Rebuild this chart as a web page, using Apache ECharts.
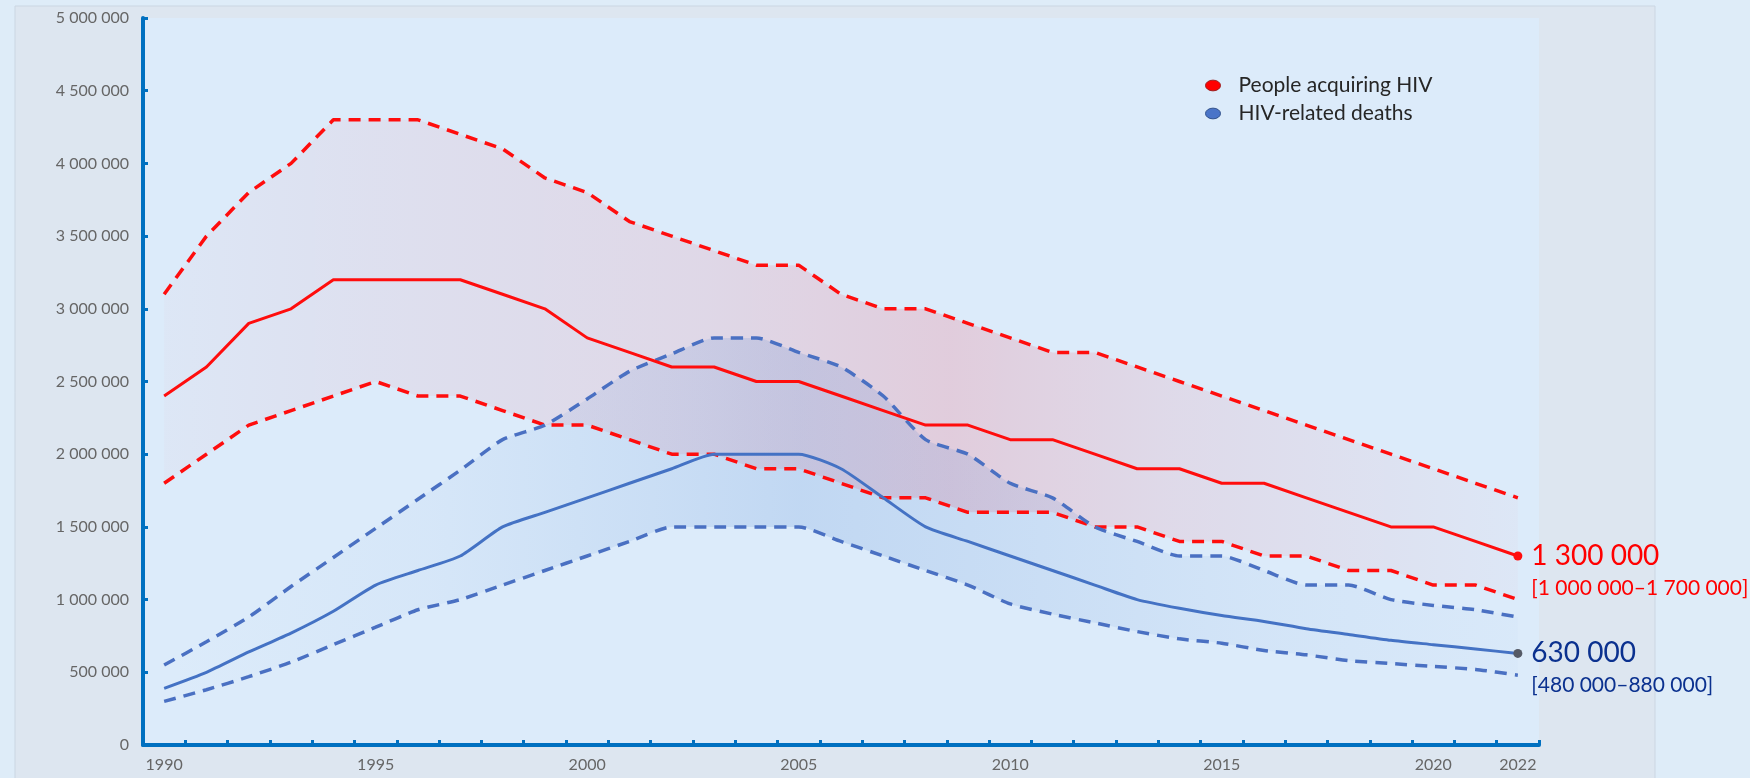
<!DOCTYPE html>
<html>
<head>
<meta charset="utf-8">
<title>People acquiring HIV and HIV-related deaths, 1990–2022</title>
<script src="https://cdn.jsdelivr.net/npm/echarts@6/dist/echarts.min.js"></script>
<style>
  html, body { margin: 0; padding: 0; background: #deecf8; }
  #chart { width: 1750px; height: 778px; }
</style>
</head>
<body>
<div id="chart"></div>
<script>
// Years on the horizontal axis
const years = ['1990','1991','1992','1993','1994','1995','1996','1997','1998','1999',
  '2000','2001','2002','2003','2004','2005','2006','2007','2008','2009',
  '2010','2011','2012','2013','2014','2015','2016','2017','2018','2019',
  '2020','2021','2022'];
const labelledYears = ['1990','1995','2000','2005','2010','2015','2020','2022'];

// People acquiring HIV: estimate and uncertainty bounds
const acquiringEstimate = [2400000,2600000,2900000,3000000,3200000,3200000,3200000,3200000,3100000,3000000,
  2800000,2700000,2600000,2600000,2500000,2500000,2400000,2300000,2200000,2200000,
  2100000,2100000,2000000,1900000,1900000,1800000,1800000,1700000,1600000,1500000,
  1500000,1400000,1300000];
const acquiringUpper = [3100000,3500000,3800000,4000000,4300000,4300000,4300000,4200000,4100000,3900000,
  3800000,3600000,3500000,3400000,3300000,3300000,3100000,3000000,3000000,2900000,
  2800000,2700000,2700000,2600000,2500000,2400000,2300000,2200000,2100000,2000000,
  1900000,1800000,1700000];
const acquiringLower = [1800000,2000000,2200000,2300000,2400000,2500000,2400000,2400000,2300000,2200000,
  2200000,2100000,2000000,2000000,1900000,1900000,1800000,1700000,1700000,1600000,
  1600000,1600000,1500000,1500000,1400000,1400000,1300000,1300000,1200000,1200000,
  1100000,1100000,1000000];

// HIV-related deaths: estimate and uncertainty bounds
const deathsEstimate = [390000,500000,640000,770000,920000,1100000,1200000,1300000,1500000,1600000,
  1700000,1800000,1900000,2000000,2000000,2000000,1900000,1700000,1500000,1400000,
  1300000,1200000,1100000,1000000,940000,890000,850000,800000,760000,720000,
  690000,660000,630000];
const deathsUpper = [550000,710000,880000,1090000,1290000,1490000,1690000,1890000,2100000,2200000,
  2380000,2570000,2690000,2800000,2800000,2700000,2600000,2400000,2100000,2000000,
  1800000,1700000,1500000,1400000,1300000,1300000,1200000,1100000,1100000,1000000,
  960000,930000,880000];
const deathsLower = [300000,380000,470000,570000,690000,810000,930000,1000000,1100000,1200000,
  1300000,1400000,1500000,1500000,1500000,1500000,1400000,1300000,1200000,1100000,
  970000,900000,840000,780000,730000,700000,650000,620000,580000,560000,
  540000,520000,480000];

// Value axis
const yMin = 0, yMax = 5000000, yStep = 500000;

const SERIES_ACQ = 'People acquiring HIV';
const SERIES_DEATH = 'HIV-related deaths';

const RED = '#ff0d0d';
const BLUE = '#4472c4';
const BLUE_DASH = '#4a70c2';
const NAVY = '#0b318f';
const FONT = 'Lato, "Open Sans", sans-serif';

function spaced(v) {
  return String(v).replace(/\B(?=(\d{3})+(?!\d))/g, ' ');
}

const last = years.length - 1;

function withEndLabel(values, color, dotColor, lower, upper) {
  return values.map((v, i) => {
    if (i !== last) return v;
    return {
      value: v,
      symbol: 'circle',
      symbolSize: 9,
      itemStyle: { color: dotColor },
      label: {
        show: true,
        position: 'right',
        distance: 9,
        offset: [0, 15],
        formatter: '{a|' + spaced(v) + '}\n{b|[' + spaced(lower[last]) + '–' + spaced(upper[last]) + ']}',
        rich: {
          a: { fontSize: 28, lineHeight: 34, color: color, fontFamily: FONT },
          b: { fontSize: 21, lineHeight: 30, color: color, fontFamily: FONT }
        }
      }
    };
  });
}

function bandGradient(rgb, stops) {
  return new echarts.graphic.LinearGradient(0, 0, 1, 0,
    stops.map(s => ({ offset: s[0], color: 'rgba(' + rgb + ',' + s[1] + ')' })));
}

const diff = (hi, lo) => hi.map((v, i) => v - lo[i]);

const dashed = (color, width) => ({ color: color, width: width, type: [12, 8], cap: 'butt' });

const ellipseIcon = 'path://M0,5A7,5 0 1 1 14,5A7,5 0 1 1 0,5Z';

const chart = echarts.init(document.getElementById('chart'), null, { renderer: 'canvas' });

chart.setOption({
  backgroundColor: '#deecf8',
  animation: false,
  graphic: [{
    type: 'rect',
    z: -100,
    silent: true,
    shape: { x: 15, y: 6, width: 1640, height: 800 },
    style: { fill: '#dde6f0', stroke: '#cbd6e2', lineWidth: 1 }
  }],
  grid: {
    left: 143, right: 211, top: 18, bottom: 33,
    show: true, backgroundColor: '#dcebfa', borderWidth: 0
  },
  legend: {
    orient: 'vertical',
    left: 1200,
    top: 70,
    itemWidth: 15,
    itemHeight: 11,
    itemGap: 7,
    textStyle: { fontSize: 21, color: '#262626', fontFamily: FONT, padding: [0, 0, 0, 13] },
    data: [
      { name: SERIES_ACQ, icon: ellipseIcon, itemStyle: { color: '#ff0000', borderColor: '#9c1b1b', borderWidth: 1 } },
      { name: SERIES_DEATH, icon: ellipseIcon, itemStyle: { color: '#4a74c8', borderColor: '#2f4f8a', borderWidth: 1 } }
    ]
  },
  xAxis: {
    type: 'category',
    data: years,
    boundaryGap: true,
    axisLine: { lineStyle: { color: '#0070c0', width: 4 } },
    axisTick: { show: true, inside: true, length: 5, interval: 0, lineStyle: { color: '#0070c0', width: 3 } },
    axisLabel: {
      interval: (idx, val) => labelledYears.indexOf(val) >= 0,
      margin: 12,
      fontSize: 16,
      color: '#666666',
      fontFamily: FONT
    },
    splitLine: { show: false }
  },
  yAxis: {
    type: 'value',
    min: yMin, max: yMax, interval: yStep,
    axisLine: { show: true, lineStyle: { color: '#0070c0', width: 4 } },
    axisTick: { show: true, inside: true, length: 5, lineStyle: { color: '#0070c0', width: 3 } },
    axisLabel: {
      formatter: v => spaced(v),
      margin: 14,
      fontSize: 16,
      color: '#666666',
      fontFamily: FONT
    },
    splitLine: { show: false }
  },
  series: [
    // Uncertainty band: people acquiring HIV
    {
      name: 'acq-band-base', type: 'line', stack: 'acqBand', data: acquiringLower,
      symbol: 'none', lineStyle: { opacity: 0 }, silent: true, z: 1
    },
    {
      name: 'acq-band', type: 'line', stack: 'acqBand', data: diff(acquiringUpper, acquiringLower),
      symbol: 'none', lineStyle: { opacity: 0 }, silent: true, z: 1,
      areaStyle: {
        color: bandGradient('255,20,40', [[0, 0.02], [0.15, 0.05], [0.4, 0.09], [0.58, 0.14], [0.75, 0.08], [1, 0.02]]),
        opacity: 1
      }
    },
    // Uncertainty band: HIV-related deaths
    {
      name: 'death-band-base', type: 'line', stack: 'deathBand', data: deathsLower,
      symbol: 'none', smooth: 0.2, lineStyle: { opacity: 0 }, silent: true, z: 1
    },
    {
      name: 'death-band', type: 'line', stack: 'deathBand', data: diff(deathsUpper, deathsLower),
      symbol: 'none', smooth: 0.2, lineStyle: { opacity: 0 }, silent: true, z: 1,
      areaStyle: {
        color: bandGradient('60,120,205', [[0, 0.0], [0.2, 0.04], [0.38, 0.12], [0.47, 0.17], [0.6, 0.13], [0.8, 0.06], [1, 0.02]]),
        opacity: 1
      }
    },
    // Bounds as dashed lines
    { name: 'acq-upper', type: 'line', data: acquiringUpper, symbol: 'none', lineStyle: dashed(RED, 3.5), z: 3 },
    { name: 'acq-lower', type: 'line', data: acquiringLower, symbol: 'none', lineStyle: dashed(RED, 3.5), z: 3 },
    { name: 'death-upper', type: 'line', data: deathsUpper, symbol: 'none', smooth: 0.2, lineStyle: dashed(BLUE_DASH, 3.5), z: 3 },
    { name: 'death-lower', type: 'line', data: deathsLower, symbol: 'none', smooth: 0.2, lineStyle: dashed(BLUE_DASH, 3.5), z: 3 },
    // Central estimates
    {
      name: SERIES_ACQ, type: 'line', symbol: 'none', z: 4,
      itemStyle: { color: '#ff0000' },
      lineStyle: { color: RED, width: 3 },
      data: withEndLabel(acquiringEstimate, '#ff0000', RED, acquiringLower, acquiringUpper)
    },
    {
      name: SERIES_DEATH, type: 'line', symbol: 'none', smooth: 0.2, z: 4,
      itemStyle: { color: BLUE },
      lineStyle: { color: BLUE, width: 3 },
      data: withEndLabel(deathsEstimate, NAVY, '#555a66', deathsLower, deathsUpper)
    }
  ]
});
</script>
</body>
</html>
